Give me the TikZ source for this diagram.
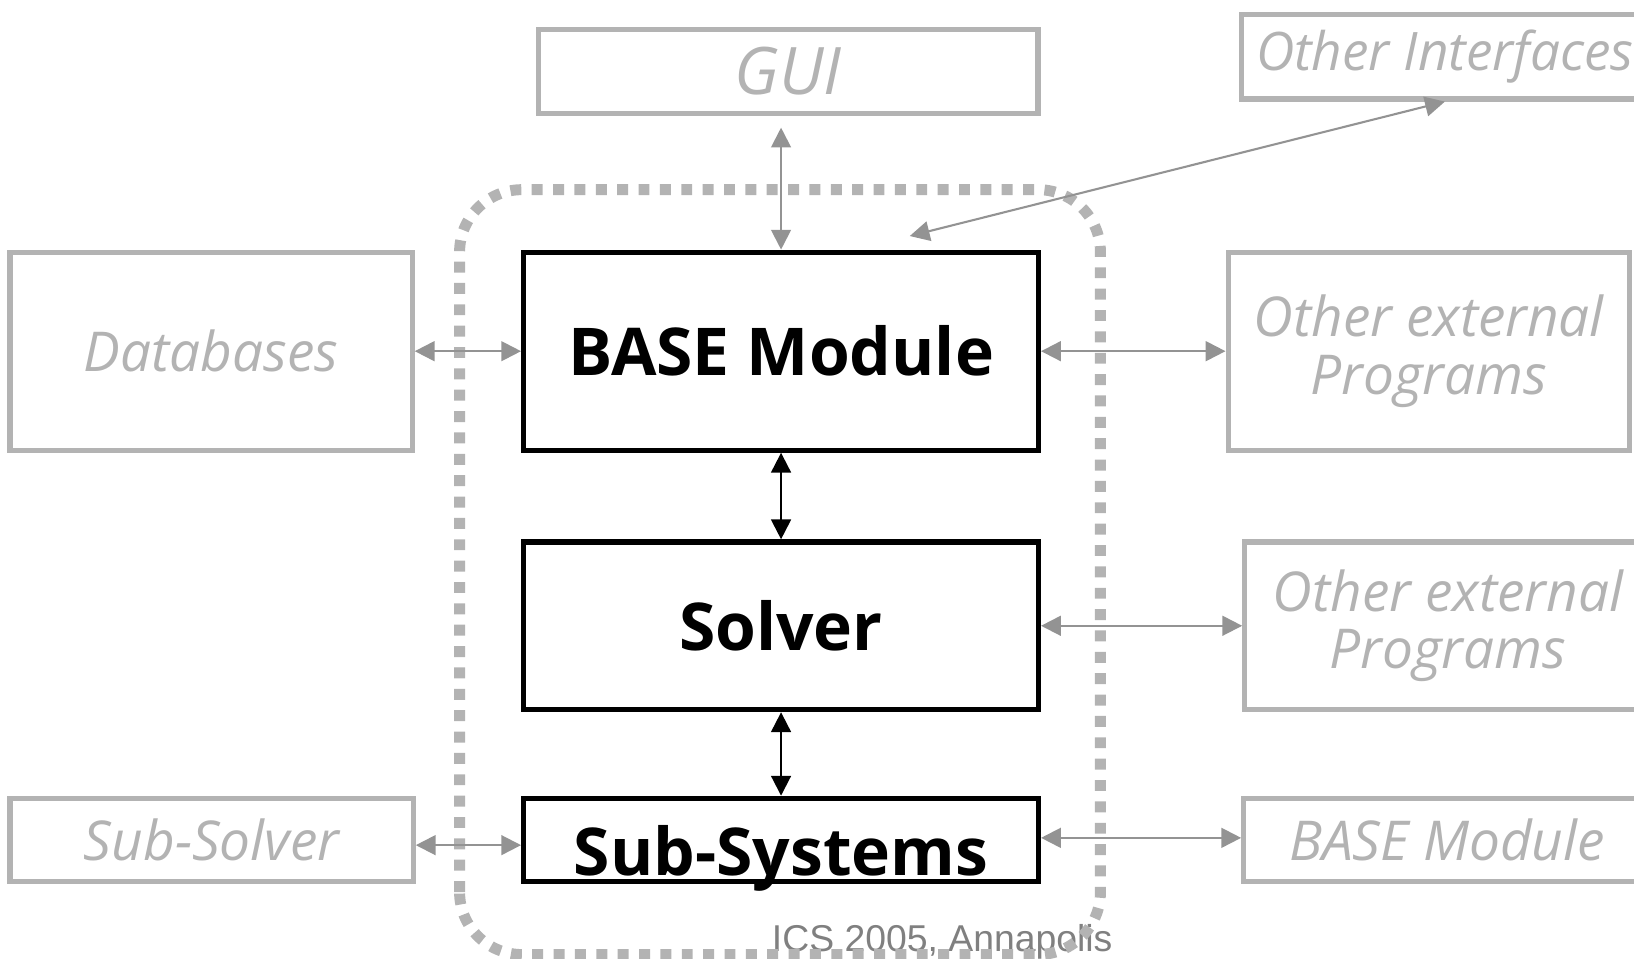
\documentclass[tikz,border=0pt]{standalone}
\usepackage{fontspec}
\setmainfont{Open Sans}
\newfontfamily\footfont{Liberation Sans}
\usetikzlibrary{arrows.meta, positioning}

\definecolor{boxgray}{HTML}{B3B3B3}
\definecolor{linkgray}{HTML}{939393}
\definecolor{footgray}{HTML}{808080}

\begin{document}
\begin{tikzpicture}[
		>={Triangle[length=0.19cm,width=0.19cm]},
		mainbox/.style={rectangle,draw,line width=0.05cm,inner sep=0pt,
			minimum width=4.94cm,font=\fontsize{18}{20}\selectfont\bfseries},
		sidebox/.style={rectangle,draw=boxgray,line width=0.05cm,inner sep=0pt,
			text=boxgray,align=center,font=\fontsize{15}{15.6}\selectfont\itshape},
		graylink/.style={draw=linkgray,line width=0.02cm},
		blacklink/.style={draw=black,line width=0.02cm},
		footer/.style={text=footgray,inner sep=0pt,font=\footfont\fontsize{10.2}{12}\selectfont}
		]
		\useasboundingbox (0,0) rectangle (15.68,9.2);

		\node[footer, anchor=base west](foot) at (7.40,0.07){ICS 2005, Annapolis};
		% dotted frame round the three modules
		\draw[boxgray, line width=0.105cm, dash pattern=on 0.105cm off 0.1cm,
		rounded corners=0.6cm] (4.41,0.04) rectangle (10.56,7.38);

		\node[mainbox, minimum height=1.9cm](base) at (7.495,5.83){BASE Module};
		\node[mainbox, minimum height=1.61cm, below=0.83cm of base](solver){Solver};
		\node[mainbox, minimum height=0.8cm, text height=0.74cm, text depth=0.06cm,
		below=0.8cm of solver](sub){Sub-Systems};

		\node[sidebox, minimum width=4.79cm, minimum height=0.81cm, above=1.28cm of base,
		xshift=0.07cm, font=\fontsize{17.9}{18}\selectfont\itshape](gui){GUI};
		\node[sidebox, minimum width=3.86cm, minimum height=1.9cm, left=1.02cm of base](db){Databases};
		\node[sidebox, minimum width=3.85cm, minimum height=1.9cm, right=1.77cm of base](ext1){Other external\\Programs};
		\node[sidebox, minimum width=3.9cm, minimum height=0.81cm, above=1.42cm of ext1,
		xshift=0.155cm, font=\fontsize{14.5}{15}\selectfont\itshape](oif){Other Interfaces};
		\node[sidebox, minimum width=3.9cm, minimum height=1.61cm, right=1.93cm of solver](ext2){Other external\\Programs};
		\node[sidebox, minimum width=3.87cm, minimum height=0.8cm, left=1.01cm of sub](ssolv){Sub-Solver};
		\node[sidebox, minimum width=3.9cm, minimum height=0.8cm, right=1.92cm of sub](bmod){BASE Module};
		\coordinate (ifend) at ([xshift=1.235cm, yshift=0.13cm]base.north);

		\draw[<->, graylink] (base.north) -- ([yshift=-0.11cm]base.north |- gui.south);
		\draw[<->, graylink] (oif.south) -- (ifend);
		\draw[<->, graylink] (db) -- (base);
		\draw[<->, graylink] (base) -- (ext1);
		\draw[<->, graylink] (solver) -- (ext2);
		\draw[<->, graylink] ([yshift=-0.05cm]ssolv.east) -- ([yshift=-0.05cm]sub.west);
		\draw[<->, graylink] ([yshift=0.02cm]sub.east) -- ([yshift=0.02cm]bmod.west);

		\draw[<->, blacklink] (base) -- (solver);
		\draw[<->, blacklink] (solver) -- (sub);

	\end{tikzpicture}
\end{document}
